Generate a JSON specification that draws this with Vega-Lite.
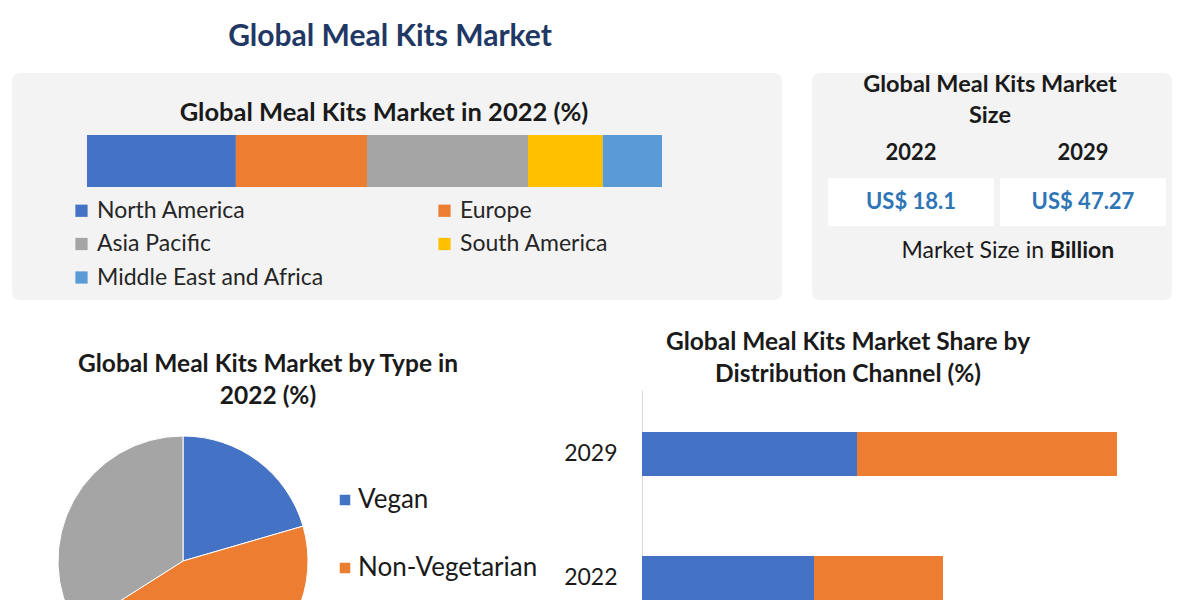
{
  "$schema": "https://vega.github.io/schema/vega-lite/v6.json",
  "background": "white",
  "padding": {"left": 12, "top": 22, "right": 0, "bottom": 0},
  "title": {"text": "Global Meal Kits Market", "anchor": "start", "align": "center", "dx": 378, "offset": -3, "baseline": "alphabetic", "fontSize": 30, "font": "Lato", "fontWeight": "bold", "color": "#1F3864"},
  "datasets": {
    "regions": [
      {"region": "North America", "share": 25.9, "year": "2022"},
      {"region": "Europe", "share": 22.8, "year": "2022"},
      {"region": "Asia Pacific", "share": 28.0, "year": "2022"},
      {"region": "South America", "share": 13.0, "year": "2022"},
      {"region": "Middle East and Africa", "share": 10.3, "year": "2022"}
    ],
    "size": [
      {"year": "2022", "value": 18.1, "label": "US$ 18.1"},
      {"year": "2029", "value": 47.27, "label": "US$ 47.27"}
    ],
    "note": [{"prefix": "Market Size in", "unit": "Billion"}],
    "headings": [
      {"panel": "regions", "heading": "Global Meal Kits Market in 2022 (%)"},
      {"panel": "size", "heading": "Global Meal Kits Market\nSize"}
    ],
    "types": [
      {"type": "Vegan", "share": 20.5},
      {"type": "Non-Vegetarian", "share": 45.5},
      {"type": "Vegetarian", "share": 34.0}
    ],
    "channels": [
      {"year": "2029", "channel": "Online", "value": 21.5},
      {"year": "2029", "channel": "Offline", "value": 26.0},
      {"year": "2022", "channel": "Online", "value": 17.2},
      {"year": "2022", "channel": "Offline", "value": 12.9}
    ]
  },
  "spacing": 29,
  "resolve": {"scale": {"color": "independent"}, "legend": {"color": "independent"}},
  "vconcat": [
    {
      "hconcat": [
        {
          "width": 770,
          "height": 227,
          "view": {"fill": "#f3f3f3", "stroke": null, "cornerRadius": 8},
          "layer": [
            {
              "data": {"name": "regions"},
              "transform": [{"window": [{"op": "row_number", "as": "rank"}]}],
              "mark": {"type": "bar", "height": 52},
              "encoding": {
                "x": {"field": "share", "type": "quantitative", "stack": "zero", "axis": null, "scale": {"domain": [-13.04, 120.87], "nice": false, "zero": false}},
                "y": {"field": "year", "type": "nominal", "axis": null, "scale": {"domain": ["2022"], "paddingInner": 0, "paddingOuter": 1, "align": 0.332}},
                "order": {"field": "rank", "type": "quantitative"},
                "color": {
                  "field": "region", "type": "nominal",
                  "sort": ["North America", "Europe", "Asia Pacific", "South America", "Middle East and Africa"],
                  "scale": {"domain": ["North America", "Europe", "Asia Pacific", "South America", "Middle East and Africa"], "range": ["#4472C4", "#ED7D31", "#A5A5A5", "#FFC000", "#5B9BD5"]},
                  "legend": {"orient": "none", "direction": "horizontal", "legendX": 58, "legendY": 126, "columns": 2, "title": null, "symbolType": "square", "symbolSize": 150, "symbolStrokeWidth": 0, "labelFontSize": 23, "labelFont": "Lato", "labelColor": "#262626", "labelLimit": 400, "rowPadding": 9.5, "columnPadding": 108, "labelOffset": 4}
                }
              }
            },
            {
              "data": {"name": "headings"},
              "transform": [{"filter": "datum.panel === 'regions'"}],
              "mark": {"type": "text", "fontSize": 25.5, "font": "Lato", "fontWeight": "bold", "color": "#1a1a1a", "baseline": "middle", "dx": -13, "dy": -73.5},
              "encoding": {"text": {"field": "heading"}}
            }
          ]
        },
        {
          "width": 360,
          "height": 227,
          "view": {"fill": "#f3f3f3", "stroke": null, "cornerRadius": 8},
          "layer": [
            {
              "data": {"name": "size"},
              "mark": {"type": "rect", "fill": "#ffffff"},
              "encoding": {
                "x": {"field": "year", "type": "nominal", "axis": null, "scale": {"domain": ["2022", "2029"], "paddingInner": 0.035, "paddingOuter": 0.064, "align": 0.727}},
                "y": {"datum": "box", "type": "nominal", "axis": null, "scale": {"domain": ["year", "box", "note"], "paddingInner": 0.0204, "paddingOuter": 0.827, "align": 0.691}}
              }
            },
            {
              "data": {"name": "size"},
              "mark": {"type": "text", "fontSize": 22, "font": "Lato", "fontWeight": "bold", "color": "#1a1a1a"},
              "encoding": {
                "x": {"field": "year", "type": "nominal", "axis": null, "scale": {"domain": ["2022", "2029"], "paddingInner": 0.035, "paddingOuter": 0.064, "align": 0.727}},
                "y": {"datum": "year", "type": "nominal", "axis": null, "scale": {"domain": ["year", "box", "note"], "paddingInner": 0.0204, "paddingOuter": 0.827, "align": 0.691}},
                "text": {"field": "year"}
              }
            },
            {
              "data": {"name": "size"},
              "mark": {"type": "text", "fontSize": 22, "font": "Lato", "fontWeight": "bold", "color": "#2E75B6"},
              "encoding": {
                "x": {"field": "year", "type": "nominal", "axis": null, "scale": {"domain": ["2022", "2029"], "paddingInner": 0.035, "paddingOuter": 0.064, "align": 0.727}},
                "y": {"datum": "box", "type": "nominal", "axis": null, "scale": {"domain": ["year", "box", "note"], "paddingInner": 0.0204, "paddingOuter": 0.827, "align": 0.691}},
                "text": {"field": "label"}
              }
            },
            {
              "data": {"name": "note"},
              "mark": {"type": "text", "fontSize": 23, "font": "Lato", "color": "#1a1a1a", "align": "right", "dx": 52},
              "encoding": {
                "y": {"datum": "note", "type": "nominal", "axis": null, "scale": {"domain": ["year", "box", "note"], "paddingInner": 0.0204, "paddingOuter": 0.827, "align": 0.691}},
                "text": {"field": "prefix"}
              }
            },
            {
              "data": {"name": "note"},
              "mark": {"type": "text", "fontSize": 23, "font": "Lato", "fontWeight": "bold", "color": "#1a1a1a", "align": "left", "dx": 58},
              "encoding": {
                "y": {"datum": "note", "type": "nominal", "axis": null, "scale": {"domain": ["year", "box", "note"], "paddingInner": 0.0204, "paddingOuter": 0.827, "align": 0.691}},
                "text": {"field": "unit"}
              }
            },
            {
              "data": {"name": "headings"},
              "transform": [{"filter": "datum.panel === 'size'"}],
              "mark": {"type": "text", "fontSize": 23.5, "font": "Lato", "fontWeight": "bold", "color": "#1a1a1a", "baseline": "middle", "lineBreak": "\n", "lineHeight": 31, "dx": -2, "dy": -101.5},
              "encoding": {"text": {"field": "heading"}}
            }
          ]
        }
      ],
      "spacing": 30,
      "bounds": "flush",
      "resolve": {"scale": {"color": "independent"}, "legend": {"color": "independent"}}
    },
    {
      "hconcat": [
        {
          "width": 342,
          "height": 342,
          "title": {"text": ["Global Meal Kits Market by Type in", "2022 (%)"], "anchor": "middle", "frame": "group", "dx": 85, "offset": 0, "dy": 19, "lineHeight": 32, "fontSize": 24.5, "font": "Lato", "fontWeight": "bold", "color": "#1a1a1a"},
          "data": {"name": "types"},
          "transform": [{"window": [{"op": "row_number", "as": "rank"}]}],
          "mark": {"type": "arc", "outerRadius": 125, "stroke": "#ffffff", "strokeWidth": 1},
          "encoding": {
            "theta": {"field": "share", "type": "quantitative", "stack": true},
            "order": {"field": "rank", "type": "quantitative"},
            "color": {
              "field": "type", "type": "nominal",
              "sort": ["Vegan", "Non-Vegetarian", "Vegetarian"],
              "scale": {"domain": ["Vegan", "Non-Vegetarian", "Vegetarian"], "range": ["#4472C4", "#ED7D31", "#A5A5A5"]},
              "legend": {"orient": "none", "legendX": 320, "legendY": 97, "title": null, "symbolType": "square", "symbolSize": 110, "symbolStrokeWidth": 0, "labelFontSize": 26, "labelFont": "Lato", "labelColor": "#1a1a1a", "labelLimit": 400, "rowPadding": 42, "labelOffset": 0}
            }
          }
        },
        {
          "width": 520,
          "height": 252,
          "title": {"text": ["Global Meal Kits Market Share by", "Distribution Channel (%)"], "anchor": "middle", "frame": "group", "dx": -54, "offset": 3, "lineHeight": 32, "fontSize": 24.5, "font": "Lato", "fontWeight": "bold", "color": "#1a1a1a"},
          "data": {"name": "channels"},
          "transform": [{"window": [{"op": "row_number", "as": "rank"}]}],
          "mark": {"type": "bar"},
          "encoding": {
            "y": {"field": "year", "type": "nominal", "sort": ["2029", "2022"], "scale": {"paddingInner": 0.645, "paddingOuter": 0.339}, "axis": {"title": null, "ticks": false, "tickSize": 0, "domainColor": "#d9d9d9", "labelFontSize": 23, "labelFont": "Lato", "labelColor": "#1a1a1a", "labelPadding": 25}},
            "x": {"field": "value", "type": "quantitative", "stack": "zero", "axis": null, "scale": {"domain": [0, 52], "nice": false}},
            "order": {"field": "rank", "type": "quantitative"},
            "color": {"field": "channel", "type": "nominal", "sort": ["Online", "Offline"], "scale": {"domain": ["Online", "Offline"], "range": ["#4472C4", "#ED7D31"]}, "legend": null}
          }
        }
      ],
      "spacing": 288,
      "bounds": "flush",
      "resolve": {"scale": {"color": "independent"}, "legend": {"color": "independent"}}
    }
  ],
  "config": {
    "view": {"stroke": null},
    "font": "Lato"
  }
}
